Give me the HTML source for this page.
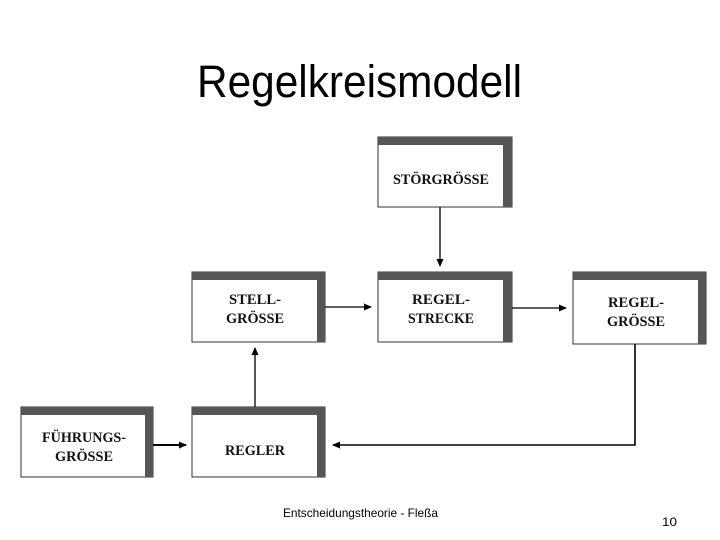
<!DOCTYPE html>
<html><head><meta charset="utf-8"><style>
html,body{margin:0;padding:0;background:#fff;}
svg{display:block;}
</style></head><body>
<svg width="720" height="540" viewBox="0 0 720 540" xmlns="http://www.w3.org/2000/svg">
<defs>
<marker id="ah" markerWidth="8" markerHeight="8" refX="7" refY="4" orient="auto" markerUnits="userSpaceOnUse">
<path d="M0,0.5 L8,4 L0,7.5 Z" fill="#000"/>
</marker>
</defs>
<rect width="720" height="540" fill="#fff"/>
<text x="197" y="97" font-family="Liberation Sans, sans-serif" font-size="45" textLength="325" lengthAdjust="spacingAndGlyphs" fill="#000">Regelkreismodell</text>

<g font-family="Liberation Serif, serif" font-weight="bold" font-size="15" fill="#111" text-anchor="middle">
<!-- boxes -->
<g id="b1">
<rect x="378" y="137" width="134" height="70" fill="#fff" stroke="#333" stroke-width="1"/>
<rect x="378" y="137" width="134" height="8" fill="#555"/>
<rect x="503" y="137" width="9" height="70" fill="#555"/>
<text x="441" y="184" textLength="96" lengthAdjust="spacingAndGlyphs">STÖRGRÖSSE</text>
</g>
<rect x="378" y="272" width="134" height="70" fill="#fff" stroke="#333"/>
<rect x="378" y="272" width="134" height="8" fill="#555"/>
<rect x="503" y="272" width="9" height="70" fill="#555"/>
<text x="441" y="304" textLength="58" lengthAdjust="spacingAndGlyphs">REGEL-</text>
<text x="441" y="323" textLength="66" lengthAdjust="spacingAndGlyphs">STRECKE</text>

<rect x="573" y="272" width="133" height="72" fill="#fff" stroke="#333"/>
<rect x="573" y="272" width="133" height="8" fill="#555"/>
<rect x="698" y="272" width="8" height="72" fill="#555"/>
<text x="636" y="307" textLength="56" lengthAdjust="spacingAndGlyphs">REGEL-</text>
<text x="636" y="326" textLength="58" lengthAdjust="spacingAndGlyphs">GRÖSSE</text>

<rect x="192" y="272" width="133" height="70" fill="#fff" stroke="#333"/>
<rect x="192" y="272" width="133" height="8" fill="#555"/>
<rect x="317" y="272" width="8" height="70" fill="#555"/>
<text x="255" y="304" textLength="52" lengthAdjust="spacingAndGlyphs">STELL-</text>
<text x="255" y="323" textLength="58" lengthAdjust="spacingAndGlyphs">GRÖSSE</text>

<rect x="192" y="407" width="133" height="70" fill="#fff" stroke="#333"/>
<rect x="192" y="407" width="133" height="8" fill="#555"/>
<rect x="317" y="407" width="8" height="70" fill="#555"/>
<text x="255" y="455" textLength="60" lengthAdjust="spacingAndGlyphs">REGLER</text>

<rect x="21" y="407" width="132" height="70" fill="#fff" stroke="#333"/>
<rect x="21" y="407" width="132" height="8" fill="#555"/>
<rect x="145" y="415" width="8" height="62" fill="#555"/>
<text x="84" y="442" textLength="84" lengthAdjust="spacingAndGlyphs">FÜHRUNGS-</text>
<text x="84" y="461" textLength="58" lengthAdjust="spacingAndGlyphs">GRÖSSE</text>
</g>

<g stroke="#000" stroke-width="1.3" fill="none">
<line x1="440" y1="207" x2="440" y2="266" marker-end="url(#ah)"/>
<line x1="325" y1="307" x2="371" y2="307" marker-end="url(#ah)"/>
<line x1="512" y1="308" x2="566" y2="308" marker-end="url(#ah)"/>
<line x1="255" y1="407" x2="255" y2="348" marker-end="url(#ah)"/>
<line x1="153" y1="445" x2="186" y2="445" stroke-width="2" marker-end="url(#ah)"/>
<polyline points="635,344 635,445 333,445" marker-end="url(#ah)" stroke-width="1.6"/>
</g>

<text x="283" y="517" font-family="Liberation Sans, sans-serif" font-size="12" textLength="155" lengthAdjust="spacingAndGlyphs" fill="#000">Entscheidungstheorie - Fleßa</text>
<text x="662" y="526" font-family="Liberation Sans, sans-serif" font-size="12" textLength="15" lengthAdjust="spacingAndGlyphs" fill="#000">10</text>
</svg>
</body></html>
